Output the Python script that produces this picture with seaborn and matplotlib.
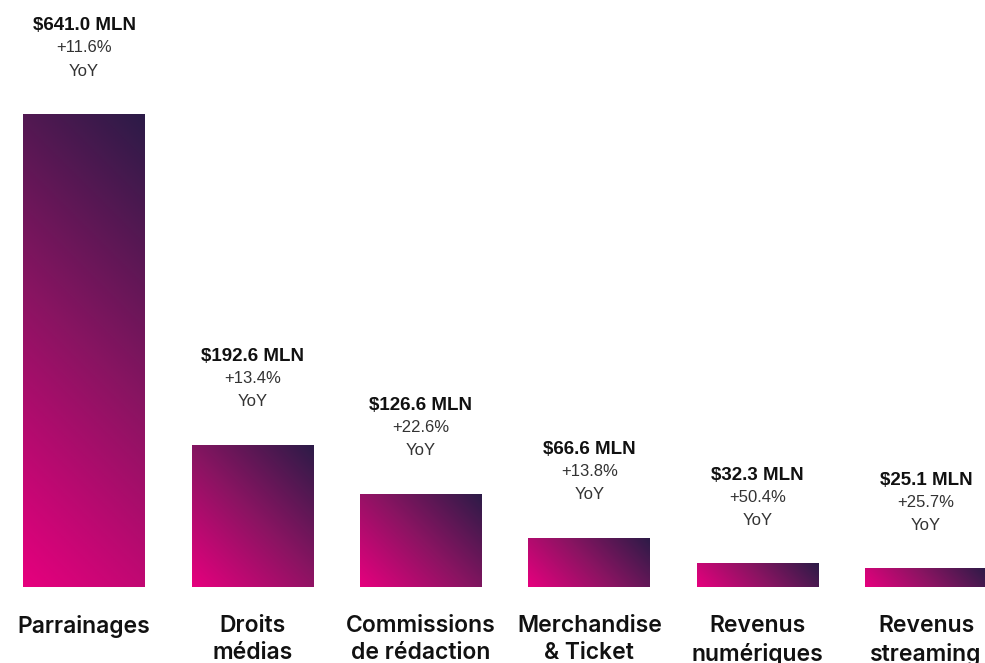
import numpy as np
import pandas as pd
import matplotlib
matplotlib.use("Agg")
import matplotlib.pyplot as plt
import seaborn as sns
from matplotlib.colors import LinearSegmentedColormap

categories = ["Parrainages", "Droits\nmédias", "Commissions\nde rédaction",
              "Merchandise\n& Ticket", "Revenus\nnumériques", "Revenus\nstreaming"]
values = [641.0, 192.6, 126.6, 66.6, 32.3, 25.1]
growth = ["+11.6%", "+13.4%", "+22.6%", "+13.8%", "+50.4%", "+25.7%"]

df = pd.DataFrame({"cat": categories, "val": values})

sns.set_theme(style="white")
plt.rcParams["font.family"] = ["Liberation Sans", "DejaVu Sans"]

ytop = 641 * 587 / 473

fig = plt.figure(figsize=(9.85, 6.63), dpi=100)
ax = fig.add_axes([0, 76 / 663, 1, 587 / 663])

sns.barplot(data=df, x="cat", y="val", width=0.724, color="#888888", ax=ax)
ax.set_xlim(-0.5, 5.35)
ax.set_ylim(0, ytop)

cmap = LinearSegmentedColormap.from_list("grad", ["#e6007e", "#8a1462", "#2c1b47"])

fig.canvas.draw()
for p in ax.patches:
    x0, y0 = p.get_x(), p.get_y()
    w, h = p.get_width(), p.get_height()
    (px0, py0), (px1, py1) = ax.transData.transform([(x0, y0), (x0 + w, y0 + h)])
    wp, hp = px1 - px0, py1 - py0
    U, V = np.meshgrid(np.linspace(0, wp, 200), np.linspace(0, hp, 200))
    t = (U + V) / (wp + hp)
    im = ax.imshow(t, cmap=cmap, vmin=0, vmax=1, origin="lower",
                   extent=(x0, x0 + w, y0, y0 + h), aspect="auto", zorder=2,
                   interpolation="bilinear")
    im.set_clip_path(p)
    p.set_facecolor("none")
    p.set_edgecolor("none")
ax.set_xlim(-0.5, 5.35)
ax.set_ylim(0, ytop)

for i, (val, g) in enumerate(zip(values, growth)):
    ax.annotate(f"${val:.1f} MLN", (i, val), xytext=(0, 88), textcoords="offset pixels",
                ha="center", va="center", fontsize=13.5, fontweight="bold", color="#111111")
    ax.annotate(g, (i, val), xytext=(0, 66), textcoords="offset pixels",
                ha="center", va="center", fontsize=12, color="#333333")
    ax.annotate("YoY", (i, val), xytext=(0, 43), textcoords="offset pixels",
                ha="center", va="center", fontsize=12, color="#333333")

ax.set_xlabel("")
ax.set_ylabel("")
ax.set_yticks([])
ax.tick_params(axis="x", length=0, pad=20)
ax.set_xticks(range(len(categories)))
ax.set_xticklabels(categories, fontsize=16.5, fontweight="semibold", family=["Inter", "DejaVu Sans"],
                   linespacing=1.32, color="#111111")
sns.despine(ax=ax, left=True, bottom=True)

fig.savefig("out.png", dpi=100)
